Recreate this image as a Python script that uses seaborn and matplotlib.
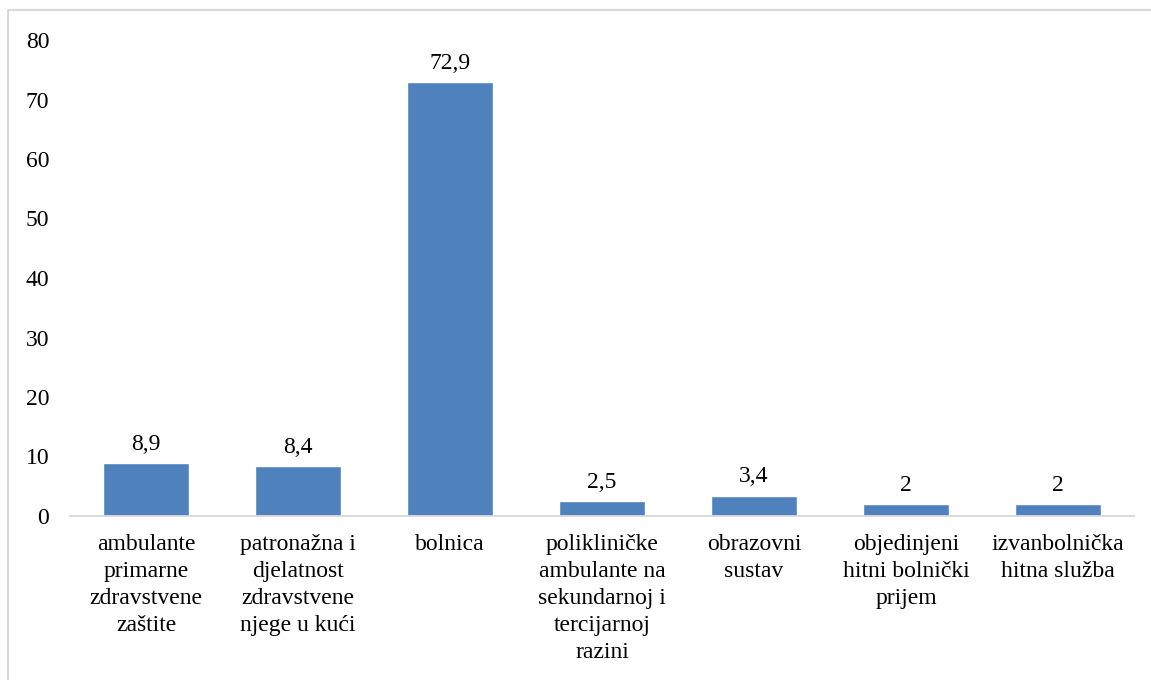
import matplotlib
matplotlib.use('Agg')
import matplotlib.pyplot as plt
from matplotlib.lines import Line2D
import seaborn as sns
import pandas as pd

categories = [
    'ambulante\nprimarne\nzdravstvene\nzaštite',
    'patronažna i\ndjelatnost\nzdravstvene\nnjege u kući',
    'bolnica',
    'polikliničke\nambulante na\nsekundarnoj i\ntercijarnoj\nrazini',
    'obrazovni\nsustav',
    'objedinjeni\nhitni bolnički\nprijem',
    'izvanbolnička\nhitna služba',
]
values = [8.9, 8.4, 72.9, 2.5, 3.4, 2, 2]
value_labels = ['8,9', '8,4', '72,9', '2,5', '3,4', '2', '2']
y_ticks = [0, 10, 20, 30, 40, 50, 60, 70, 80]

sns.set_theme(style='white')
plt.rcParams['font.family'] = ['Liberation Serif', 'DejaVu Serif']

df = pd.DataFrame({'kategorija': categories, 'vrijednost': values})

fig = plt.figure(figsize=(11.51, 6.80), dpi=100)
ax = fig.add_axes([70 / 1151, 1 - 516 / 680, 1064 / 1151, 476 / 680])

sns.barplot(data=df, x='kategorija', y='vrijednost', color='#4F81BD',
            saturation=1, width=0.57, ax=ax)

ax.set_ylim(0, 80)
ax.set_yticks(y_ticks)
ax.set_xlim(-0.5, len(categories) - 0.5)
ax.set_xlabel('')
ax.set_ylabel('')

for s in ['top', 'right', 'left']:
    ax.spines[s].set_visible(False)
ax.spines['bottom'].set_color('#d9d9d9')
ax.spines['bottom'].set_linewidth(1.3)

ax.tick_params(axis='y', length=0, pad=15, labelsize=17, labelcolor='black')
ax.tick_params(axis='x', length=0, pad=13, labelsize=17, labelcolor='black')
for t in ax.get_xticklabels():
    t.set_linespacing(1.38)

#подписи над столбцами
for p, lab in zip(ax.patches, value_labels):
    ax.annotate(lab,
                (p.get_x() + p.get_width() / 2., p.get_height()),
                ha='center', va='bottom',
                xytext=(0, 6),
                textcoords='offset points',
                fontsize=17, color='black')

#рамка: только слева и сверху
x0, y0 = 8 / 1151, 1 - 10 / 680
fig.add_artist(Line2D([x0, x0], [0, y0], transform=fig.transFigure,
                      color='#d9d9d9', linewidth=1.5))
fig.add_artist(Line2D([x0, 1], [y0, y0], transform=fig.transFigure,
                      color='#d9d9d9', linewidth=1.5))

fig.savefig('out.png', dpi=100)
